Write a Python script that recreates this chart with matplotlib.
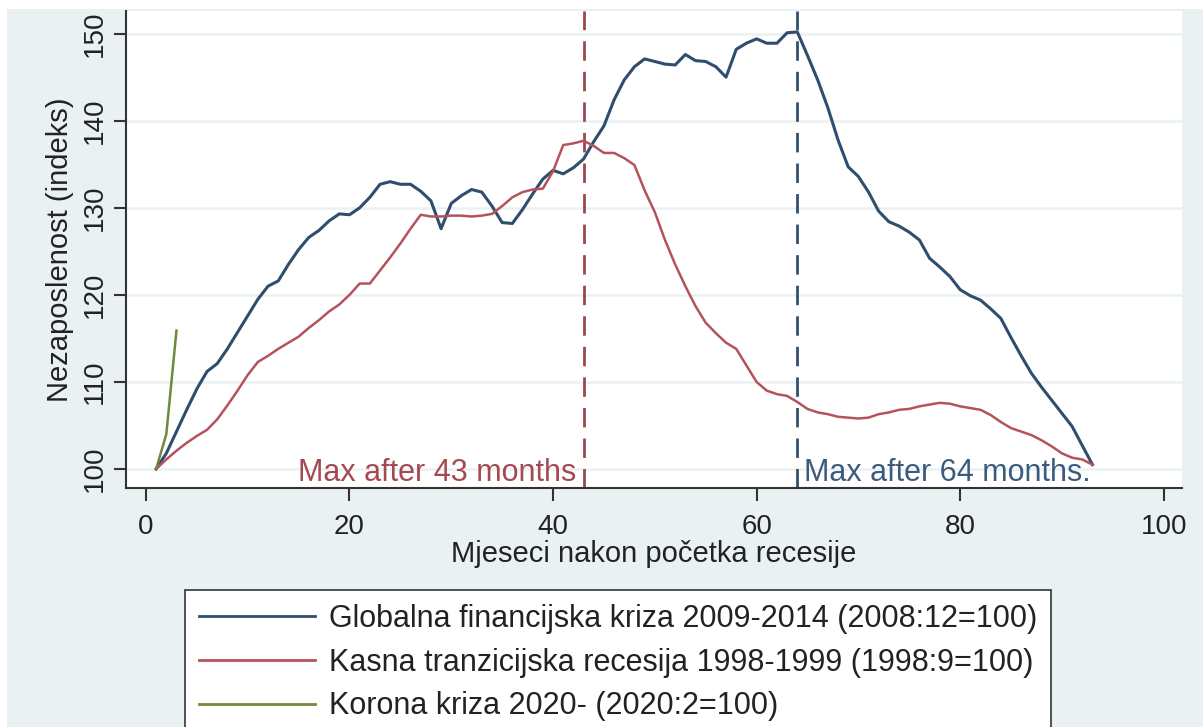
import matplotlib
matplotlib.use("Agg")
import matplotlib.pyplot as plt
from matplotlib.patches import Rectangle

plt.rcParams['font.family'] = ['Liberation Sans', 'DejaVu Sans']

months_gfk = list(range(1, 94))
gfk = [100.0, 101.8, 104.3, 106.8, 109.2, 111.2, 112.1, 113.8, 115.7, 117.6,
       119.5, 121.0, 121.6, 123.5, 125.2, 126.6, 127.4, 128.5, 129.3, 129.2,
       130.0, 131.2, 132.7, 133.0, 132.7, 132.7, 131.9, 130.8, 127.6, 130.5,
       131.4, 132.1, 131.8, 130.2, 128.3, 128.2, 129.8, 131.6, 133.3, 134.3,
       133.9, 134.6, 135.6, 137.6, 139.4, 142.4, 144.7, 146.2, 147.1, 146.8,
       146.5, 146.4, 147.6, 146.9, 146.8, 146.2, 145.0, 148.2, 148.9, 149.4,
       148.9, 148.9, 150.1, 150.2, 147.5, 144.7, 141.5, 137.8, 134.7, 133.6,
       131.8, 129.6, 128.4, 127.9, 127.2, 126.3, 124.2, 123.2, 122.1, 120.6,
       119.9, 119.4, 118.4, 117.3, 115.1, 113.0, 111.0, 109.4, 107.9, 106.4,
       104.9, 102.7, 100.5]

months_ktr = list(range(1, 94))
ktr = [100.0, 101.1, 102.1, 103.0, 103.8, 104.5, 105.7, 107.3, 109.0, 110.8,
       112.3, 113.0, 113.8, 114.5, 115.2, 116.2, 117.1, 118.1, 118.9, 120.0,
       121.3, 121.3, 122.8, 124.3, 125.9, 127.6, 129.2, 129.0, 129.0, 129.1,
       129.1, 129.0, 129.1, 129.3, 130.2, 131.2, 131.8, 132.1, 132.2, 134.2,
       137.2, 137.4, 137.7, 137.1, 136.3, 136.3, 135.7, 134.9, 132.0, 129.5,
       126.3, 123.5, 121.0, 118.7, 116.8, 115.6, 114.5, 113.8, 111.9, 110.0,
       109.0, 108.6, 108.4, 107.7, 106.9, 106.5, 106.3, 106.0, 105.9, 105.8,
       105.9, 106.3, 106.5, 106.8, 106.9, 107.2, 107.4, 107.6, 107.5, 107.2,
       107.0, 106.8, 106.2, 105.4, 104.7, 104.3, 103.9, 103.3, 102.6, 101.8,
       101.3, 101.1, 100.5]

months_kor = [1, 2, 3]
kor = [100.0, 104.0, 115.9]

labels = ["Globalna financijska kriza 2009-2014 (2008:12=100)",
          "Kasna tranzicijska recesija 1998-1999 (1998:9=100)",
          "Korona kriza 2020- (2020:2=100)"]
peak_ktr, peak_gfk = 43, 64
xticks = [0, 20, 40, 60, 80, 100]
yticks = [100, 110, 120, 130, 140, 150]

BLUE = '#2f4d6e'
RED = '#b4535b'
GREEN = '#6e8b3d'
BG = '#eaf1f3'

W, H = 1203, 727
fig = plt.figure(figsize=(W / 100, H / 100), dpi=100)
fig.patch.set_facecolor('white')
fig.patches.append(Rectangle((7 / W, 0), 1, 1 - 9 / H, transform=fig.transFigure,
                             facecolor=BG, edgecolor='none', zorder=-10))

ax = fig.add_axes([126 / W, 1 - 488 / H, (1182 - 126) / W, (488 - 11) / H])
ax.set_facecolor('white')

ax.plot(months_gfk, gfk, color=BLUE, lw=2.2, label=labels[0], zorder=3)
ax.plot(months_ktr, ktr, color=RED, lw=1.8, label=labels[1], zorder=3)
ax.plot(months_kor, kor, color=GREEN, lw=1.8, label=labels[2], zorder=3)

ax.axvline(peak_ktr, color='#9a4750', lw=2, dashes=(7, 4), zorder=2)
ax.axvline(peak_gfk, color='#34506e', lw=2, dashes=(7, 4), zorder=2)

ax.annotate("Max after 43 months", xy=(peak_ktr, 98.6), xytext=(-5, 0),
            textcoords='offset points', ha='right', va='baseline',
            color='#a5484f', fontsize=22)
ax.annotate("Max after 64 months.", xy=(peak_gfk, 98.6), xytext=(5, 0),
            textcoords='offset points', ha='left', va='baseline',
            color='#3b5a7d', fontsize=22)

ax.set_xlim(-1.96, 101.8)
ax.set_ylim(97.82, 152.6)
ax.set_xticks(xticks)
ax.set_yticks(yticks)
ax.set_yticklabels([str(v) for v in yticks], rotation=90, va='center')
ax.tick_params(axis='both', labelsize=20, length=9, width=1.5, color='#333333',
               labelcolor='#222222')
ax.tick_params(axis='x', pad=10)
ax.tick_params(axis='y', pad=4)
ax.grid(axis='y', color=BG, lw=1.8, zorder=0)
ax.set_axisbelow(True)
for s in ['top', 'right']:
    ax.spines[s].set_visible(False)
for s in ['left', 'bottom']:
    ax.spines[s].set_color('#333333')
    ax.spines[s].set_linewidth(1.5)

ax.set_xlabel("Mjeseci nakon početka recesije", fontsize=21, color='#222222', labelpad=0)
ax.set_ylabel("Nezaposlenost (indeks)", fontsize=21, color='#222222', labelpad=6)

leg = fig.legend(loc='upper left', bbox_to_anchor=(185 / W, 1 - 590 / H),
                 bbox_transform=fig.transFigure, fontsize=22, frameon=True,
                 fancybox=False, edgecolor='#333333', facecolor='white',
                 framealpha=1, handlelength=3.8, handletextpad=0.45,
                 labelspacing=0.45, borderpad=0.45, borderaxespad=0)
leg.get_frame().set_linewidth(1.2)
for t in leg.get_texts():
    t.set_color('#222222')
for l in leg.get_lines():
    l.set_linewidth(2)

fig.savefig("out.png", dpi=100, facecolor=fig.get_facecolor())
